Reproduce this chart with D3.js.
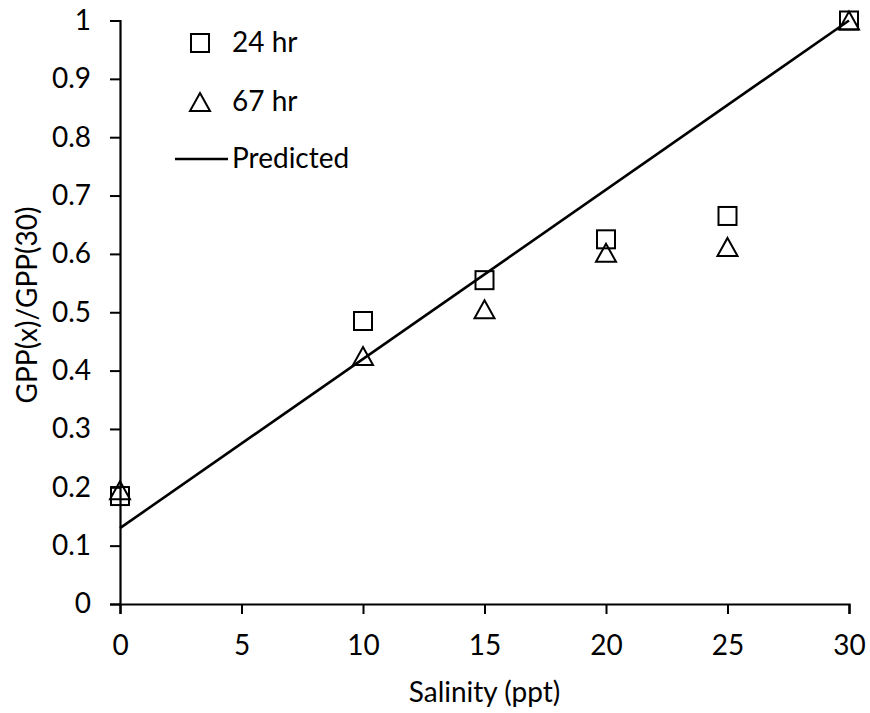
<!DOCTYPE html>
<html>
<head>
<meta charset="utf-8">
<script src="https://cdn.jsdelivr.net/npm/d3@7"></script>
<style>
  html, body { margin: 0; padding: 0; background: #fff; }
  svg text { font-family: Lato, "Open Sans", sans-serif; fill: #000; }
</style>
</head>
<body>
<svg id="chart" width="870" height="713"></svg>
<script>
// Relative gross primary production vs salinity
const salinity24 = [0, 10, 15, 20, 25, 30];
const gpp24 = [0.185, 0.485, 0.555, 0.625, 0.665, 1.0];
const salinity67 = [0, 10, 15, 20, 25, 30];
const gpp67 = [0.195, 0.425, 0.505, 0.602, 0.612, 1.0];
const predictedX = [0, 30];
const predictedY = [0.13, 1.0];
const xTicks = [0, 5, 10, 15, 20, 25, 30];
const yTicks = [0, 0.1, 0.2, 0.3, 0.4, 0.5, 0.6, 0.7, 0.8, 0.9, 1];
const legendLabels = ["24 hr", "67 hr", "Predicted"];

const svg = d3.select("#chart");
const margin = { left: 120, right: 21, top: 20.5, bottom: 109 };
const W = 870, H = 713;
const fontSize = "28px";

const x = d3.scaleLinear().domain([0, 30]).range([margin.left, W - margin.right]);
const y = d3.scaleLinear().domain([0, 1]).range([H - margin.bottom, margin.top]);

// Axes
const xAxis = svg.append("g")
  .attr("transform", `translate(0,${y(0)})`)
  .call(d3.axisBottom(x).tickValues(xTicks).tickSize(10).tickPadding(21).tickFormat(d3.format("d")));
const yAxis = svg.append("g")
  .attr("transform", `translate(${x(0)},0)`)
  .call(d3.axisLeft(y).tickValues(yTicks).tickSize(10).tickPadding(19).tickFormat(d => d === 0 || d === 1 ? String(d) : d3.format(".1f")(d)));

[xAxis, yAxis].forEach(g => {
  g.select(".domain").attr("stroke", "#000").attr("stroke-width", 2.2);
  g.selectAll(".tick line").attr("stroke", "#000").attr("stroke-width", 2);
  g.selectAll(".tick text").style("font-size", fontSize).attr("fill", "#000");
});

// Axis titles
svg.append("text")
  .attr("x", x(15)).attr("y", 702)
  .attr("text-anchor", "middle")
  .style("font-size", fontSize)
  .text("Salinity (ppt)");
svg.append("text")
  .attr("transform", "translate(37,305) rotate(-90)")
  .attr("text-anchor", "middle")
  .style("font-size", fontSize)
  .text("GPP(x)/GPP(30)");

// Predicted line
const line = d3.line().x(d => x(d[0])).y(d => y(d[1]));
svg.append("path")
  .datum(d3.zip(predictedX, predictedY))
  .attr("d", line)
  .attr("fill", "none")
  .attr("stroke", "#000")
  .attr("stroke-width", 2.6);

const sq = 18;
const triPath = "M0,-9 L10,9 L-10,9 Z";

// 24 hr squares
svg.append("g").selectAll("rect")
  .data(d3.zip(salinity24, gpp24))
  .join("rect")
  .attr("x", d => x(d[0]) - sq / 2)
  .attr("y", d => y(d[1]) - sq / 2)
  .attr("width", sq).attr("height", sq)
  .attr("fill", "none").attr("stroke", "#000").attr("stroke-width", 2);

// 67 hr triangles
svg.append("g").selectAll("path")
  .data(d3.zip(salinity67, gpp67))
  .join("path")
  .attr("transform", d => `translate(${x(d[0])},${y(d[1])})`)
  .attr("d", triPath)
  .attr("fill", "none").attr("stroke", "#000").attr("stroke-width", 2);

// Legend
const lg = svg.append("g");
lg.append("rect").attr("x", 200 - sq / 2).attr("y", 43 - sq / 2).attr("width", sq).attr("height", sq)
  .attr("fill", "none").attr("stroke", "#000").attr("stroke-width", 2);
lg.append("path").attr("transform", "translate(200,102)").attr("d", triPath)
  .attr("fill", "none").attr("stroke", "#000").attr("stroke-width", 2);
lg.append("line").attr("x1", 175).attr("x2", 228).attr("y1", 159).attr("y2", 159)
  .attr("stroke", "#000").attr("stroke-width", 2.6);
const legendY = [52, 111, 168];
legendLabels.forEach((t, i) => {
  lg.append("text").attr("x", 232).attr("y", legendY[i]).style("font-size", fontSize).text(t);
});
</script>
</body>
</html>
